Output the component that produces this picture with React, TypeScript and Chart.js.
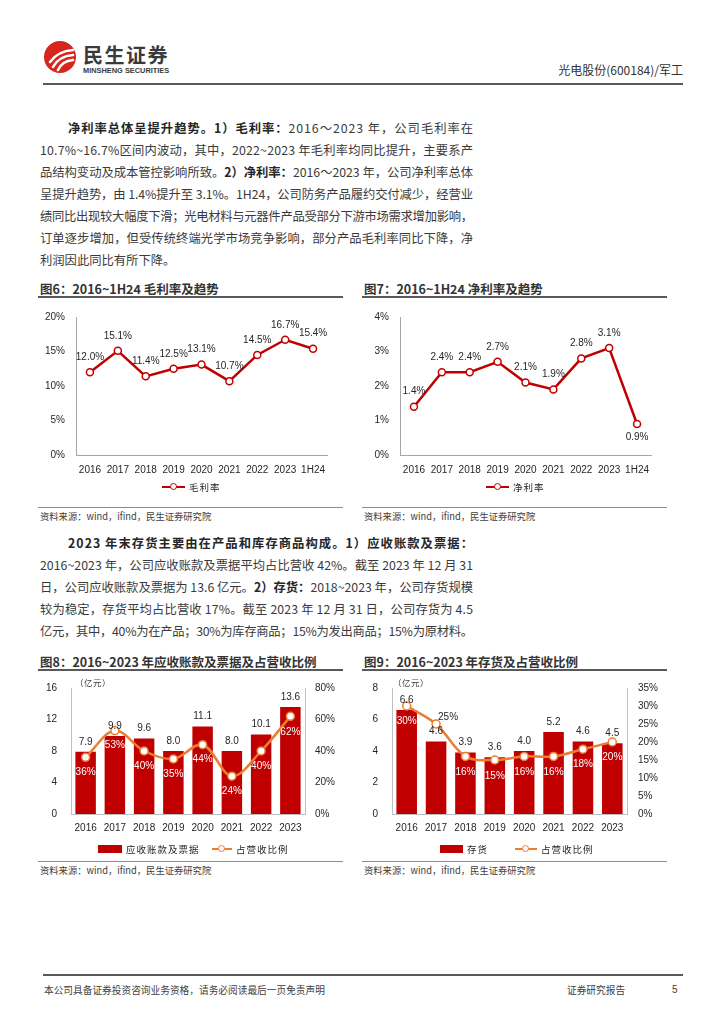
import React, { useEffect, useLayoutEffect, useRef } from "react";
import { Chart, registerables } from "chart.js";

Chart.register(...registerables);

// ---------------- data ----------------
const years9 = ["2016", "2017", "2018", "2019", "2020", "2021", "2022", "2023", "1H24"];
const grossMargin = [12.0, 15.1, 11.4, 12.5, 13.1, 10.7, 14.5, 16.7, 15.4];
const netMargin = [1.4, 2.4, 2.4, 2.7, 2.1, 1.9, 2.8, 3.1, 0.9];

const years8 = ["2016", "2017", "2018", "2019", "2020", "2021", "2022", "2023"];
const receivables = [7.9, 9.9, 9.6, 8.0, 11.1, 8.0, 10.1, 13.6];
const receivablesRatio = [36, 53, 40, 35, 44, 24, 40, 62];
const inventory = [6.6, 4.6, 3.9, 3.6, 4.0, 5.2, 4.6, 4.5];
const inventoryRatio = [30, 25, 16, 15, 16, 16, 18, 20];

const pctTicks6 = [0, 5, 10, 15, 20];
const pctTicks7 = [0, 1, 2, 3, 4];

// ---------------- styles ----------------
const RED = "#C00000";
const ORANGE = "#ED7D31";
const AXIS_GRAY = "#A6A6A6";
const BOX_GRAY = "#BFBFBF";
const TEXT = "#262626";
const LATIN = "'Liberation Sans', Arial, sans-serif";
const CJK = "'Noto Sans CJK SC', 'Noto Sans', sans-serif";
const TICK_FONT = { family: LATIN, size: 10 };

type LabelItem = {
  datasetIndex: number;
  format: (v: number) => string;
  color: string | string[];
  dx?: number | number[];
  dy: number | number[];
};

function labelPlugin(items: LabelItem[]) {
  return {
    id: "valueLabels",
    afterDatasetsDraw(chart: any) {
      const ctx = chart.ctx;
      ctx.save();
      ctx.font = `10px ${LATIN}`;
      ctx.textAlign = "center";
      ctx.textBaseline = "middle";
      for (const it of items) {
        const meta = chart.getDatasetMeta(it.datasetIndex);
        const values = chart.data.datasets[it.datasetIndex].data;
        meta.data.forEach((el: any, i: number) => {
          const pick = (p: any, d: any) => (Array.isArray(p) ? p[i] : p ?? d);
          ctx.fillStyle = pick(it.color, TEXT);
          ctx.fillText(it.format(values[i]), el.x + pick(it.dx, 0), el.y + pick(it.dy, 0));
        });
      }
      ctx.restore();
    },
  };
}

function lineConfig(labels: string[], values: number[], ticks: number[], dy: number[]) {
  return {
    type: "line",
    data: {
      labels,
      datasets: [
        {
          data: values,
          borderColor: RED,
          borderWidth: 2.5,
          pointRadius: 3.5,
          pointBorderWidth: 1.5,
          pointBackgroundColor: "#ffffff",
          pointBorderColor: RED,
          tension: 0,
        },
      ],
    },
    options: {
      animation: false,
      responsive: true,
      maintainAspectRatio: false,
      layout: { padding: { top: 13, right: 9, left: 0, bottom: 0 } },
      plugins: { legend: { display: false }, tooltip: { enabled: false } },
      scales: {
        x: {
          offset: true,
          grid: { display: false, drawTicks: false },
          border: { color: AXIS_GRAY, width: 1 },
          ticks: { padding: 9, font: TICK_FONT, color: TEXT, maxRotation: 0, autoSkip: false },
          afterFit: (s: any) => {
            s.height = 30;
          },
        },
        y: {
          min: ticks[0],
          max: ticks[ticks.length - 1],
          grid: { display: false, drawTicks: false },
          border: { color: AXIS_GRAY, width: 1 },
          ticks: {
            stepSize: ticks[1] - ticks[0],
            padding: 11,
            font: TICK_FONT,
            color: TEXT,
            callback: (v: any) => v + "%",
          },
          afterFit: (s: any) => {
            s.width = 40;
          },
        },
      },
    },
    plugins: [
      labelPlugin([
        { datasetIndex: 0, format: (v) => v.toFixed(1) + "%", color: TEXT, dy },
      ]),
    ],
  };
}

function barLineConfig(
  bars: number[],
  ratios: number[],
  yMax: number,
  yStep: number,
  y1Max: number,
  y1Step: number,
  leftW: number,
  rightW: number,
  rightPad: number,
  lineColors: string[],
  lineDx: number[],
  lineDy: number[]
) {
  return {
    type: "bar",
    data: {
      labels: years8,
      datasets: [
        {
          type: "bar",
          data: bars,
          backgroundColor: RED,
          borderWidth: 0,
          categoryPercentage: 1.0,
          barPercentage: 0.7,
          yAxisID: "y",
          order: 2,
        },
        {
          type: "line",
          data: ratios,
          borderColor: ORANGE,
          borderWidth: 2.5,
          pointRadius: 4,
          pointBorderWidth: 1.5,
          pointBackgroundColor: "#ffffff",
          pointBorderColor: ORANGE,
          tension: 0.35,
          yAxisID: "y1",
          order: 1,
        },
      ],
    },
    options: {
      animation: false,
      responsive: true,
      maintainAspectRatio: false,
      layout: { padding: { top: 11, right: 0, left: 0, bottom: 0 } },
      plugins: { legend: { display: false }, tooltip: { enabled: false } },
      scales: {
        x: {
          offset: true,
          grid: { display: false, drawTicks: false },
          border: { color: BOX_GRAY, width: 1 },
          ticks: { padding: 8, font: TICK_FONT, color: TEXT, maxRotation: 0, autoSkip: false },
          afterFit: (s: any) => {
            s.height = 26;
          },
        },
        y: {
          position: "left",
          min: 0,
          max: yMax,
          grid: { display: false, drawTicks: false },
          border: { color: BOX_GRAY, width: 1 },
          ticks: { stepSize: yStep, padding: 14, font: TICK_FONT, color: TEXT },
          afterFit: (s: any) => {
            s.width = leftW;
          },
        },
        y1: {
          position: "right",
          min: 0,
          max: y1Max,
          grid: { display: false, drawTicks: false },
          border: { color: BOX_GRAY, width: 1 },
          ticks: {
            stepSize: y1Step,
            padding: rightPad,
            font: TICK_FONT,
            color: TEXT,
            callback: (v: any) => v + "%",
          },
          afterFit: (s: any) => {
            s.width = rightW;
          },
        },
      },
    },
    plugins: [
      labelPlugin([
        { datasetIndex: 0, format: (v) => v.toFixed(1), color: TEXT, dy: -10 },
        { datasetIndex: 1, format: (v) => Math.round(v) + "%", color: lineColors, dx: lineDx, dy: lineDy },
      ]),
    ],
  };
}

// ---------------- components ----------------
function ChartBox({ config, left, top, width, height }: any) {
  const ref = useRef<HTMLCanvasElement | null>(null);
  useEffect(() => {
    const c = new Chart(ref.current as HTMLCanvasElement, config);
    return () => c.destroy();
  }, []);
  return (
    <div style={{ position: "absolute", left, top, width, height }}>
      <canvas ref={ref} />
    </div>
  );
}

function T({ x, y, size, children, bold, color, font, align, right, spacing }: any) {
  const style: any = {
    position: "absolute",
    top: y - 10,
    height: 20,
    lineHeight: "20px",
    fontSize: size,
    fontFamily: font || CJK,
    fontWeight: bold ? 700 : 400,
    color: color || "#333",
    whiteSpace: "nowrap",
    letterSpacing: spacing || 0,
  };
  if (right !== undefined) style.right = right;
  else style.left = x;
  if (align) style.textAlign = align;
  return <div style={style}>{children}</div>;
}

function HLine({ x, y, w, h, color }: any) {
  return <div style={{ position: "absolute", left: x, top: y, width: w, height: h, background: color }} />;
}

type Seg = [string, boolean];
function ParaLine({ x, y, w, segs, last }: { x: number; y: number; w: number; segs: Seg[]; last?: boolean }) {
  const ref = useRef<HTMLDivElement | null>(null);
  const innerRef = useRef<HTMLSpanElement | null>(null);
  useLayoutEffect(() => {
    const el = ref.current;
    const inner = innerRef.current;
    if (!el || !inner || last) return;
    el.style.letterSpacing = "0px";
    const natural = inner.getBoundingClientRect().width;
    const n = Array.from(segs.map((s) => s[0]).join("")).length;
    const ls = (w - natural) / Math.max(1, n - 1);
    el.style.letterSpacing = ls + "px";
  }, []);
  return (
    <div
      ref={ref}
      style={{
        position: "absolute",
        left: x,
        top: y - 11,
        width: w,
        height: 22,
        lineHeight: "22px",
        fontSize: 12.3,
        fontFamily: CJK,
        color: "#3a3a3a",
        whiteSpace: "nowrap",
      }}
    >
      <span ref={innerRef}>
        {segs.map((s, i) => (
          <span key={i} style={{ fontWeight: s[1] ? 700 : 400, color: s[1] ? "#262626" : undefined }}>
            {s[0]}
          </span>
        ))}
      </span>
    </div>
  );
}

function LegendLine({ x1, x2, y, color, label }: any) {
  const cx = (x1 + x2) / 2;
  return (
    <>
      <div style={{ position: "absolute", left: x1, top: y - 1.25, width: x2 - x1, height: 2.5, background: color }} />
      <div
        style={{
          position: "absolute",
          left: cx - 4,
          top: y - 4,
          width: 5,
          height: 5,
          borderRadius: "50%",
          border: `1.5px solid ${color}`,
          background: "#fff",
        }}
      />
      <T x={x2 + 4} y={y} size={9.5} color={TEXT} spacing={1}>
        {label}
      </T>
    </>
  );
}

function LegendRect({ x1, x2, y, color, label }: any) {
  return (
    <>
      <div style={{ position: "absolute", left: x1, top: y - 4, width: x2 - x1, height: 8, background: color }} />
      <T x={x2 + 4} y={y} size={9.5} color={TEXT} spacing={1}>
        {label}
      </T>
    </>
  );
}

const para1: { x: number; y: number; w: number; segs: Seg[]; last?: boolean }[] = [
  { x: 68, y: 128, w: 405, segs: [["净利率总体呈提升趋势。1）毛利率：", true], ["2016～2023 年，公司毛利率在", false]] },
  { x: 40, y: 150, w: 433, segs: [["10.7%~16.7%区间内波动，其中，2022~2023 年毛利率均同比提升，主要系产", false]] },
  { x: 40, y: 172, w: 433, segs: [["品结构变动及成本管控影响所致。", false], ["2）净利率：", true], ["2016～2023 年，公司净利率总体", false]] },
  { x: 40, y: 194, w: 433, segs: [["呈提升趋势，由 1.4%提升至 3.1%。1H24，公司防务产品履约交付减少，经营业", false]] },
  { x: 40, y: 216, w: 433, segs: [["绩同比出现较大幅度下滑；光电材料与元器件产品受部分下游市场需求增加影响，", false]] },
  { x: 40, y: 238, w: 433, segs: [["订单逐步增加，但受传统终端光学市场竞争影响，部分产品毛利率同比下降，净", false]] },
  { x: 40, y: 260, w: 433, segs: [["利润因此同比有所下降。", false]], last: true },
];

const para2: { x: number; y: number; w: number; segs: Seg[]; last?: boolean }[] = [
  { x: 68, y: 543, w: 405, segs: [["2023 年末存货主要由在产品和库存商品构成。1）应收账款及票据：", true]] },
  { x: 40, y: 565, w: 433, segs: [["2016~2023 年，公司应收账款及票据平均占比营收 42%。截至 2023 年 12 月 31", false]] },
  { x: 40, y: 587, w: 433, segs: [["日，公司应收账款及票据为 13.6 亿元。", false], ["2）存货：", true], ["2018~2023 年，公司存货规模", false]] },
  { x: 40, y: 609, w: 433, segs: [["较为稳定，存货平均占比营收 17%。截至 2023 年 12 月 31 日，公司存货为 4.5", false]] },
  { x: 40, y: 631, w: 433, segs: [["亿元，其中，40%为在产品；30%为库存商品；15%为发出商品；15%为原材料。", false]] },
];

const cfg6 = lineConfig(years9, grossMargin, pctTicks6, [-15, -15, -15, -15, -15, -15, -15, -15, -15]);
const cfg7 = lineConfig(years9, netMargin, pctTicks7, [-15, -15, -15, -15, -15, -15, -15, -15, 13]);
const cfg8 = barLineConfig(
  receivables,
  receivablesRatio,
  16,
  4,
  80,
  20,
  35,
  37,
  10,
  ["#fff", "#fff", "#fff", "#fff", "#fff", "#fff", "#fff", "#fff"],
  [0, 0, 0, 0, 0, 0, 0, 0],
  [15, 15, 15, 15, 15, 15, 15, 16]
);
const cfg9 = barLineConfig(
  inventory,
  inventoryRatio,
  8,
  2,
  35,
  5,
  36,
  35,
  11,
  ["#fff", TEXT, "#fff", "#fff", "#fff", "#fff", "#fff", "#fff"],
  [0, 12, 0, 0, 0, 0, 0, 0],
  [15, -7, 16, 16, 16, 16, 15, 15]
);

function ChartFrame({ x, w, titleY, title, srcY }: any) {
  return (
    <>
      <T x={x + 2} y={titleY} size={12.5} bold color="#333">
        {title}
      </T>
      <HLine x={x} y={titleY + 7} w={w} h={1.5} color="#595959" />
      <HLine x={x} y={srcY} w={w} h={1} color="#8c8c8c" />
      <T x={x + 2} y={srcY + 9} size={9.3} color="#404040">
        资料来源：wind，ifind，民生证券研究院
      </T>
    </>
  );
}

export default function App() {
  return (
    <div
      style={{
        position: "absolute",
        left: 0,
        top: 0,
        width: 724,
        height: 1024,
        background: "#fff",
        overflow: "hidden",
      }}
    >
      {/* header */}
      <svg width="32" height="32" viewBox="0 0 32 32" style={{ position: "absolute", left: 44, top: 41 }}>
        <circle cx="16" cy="16" r="16" fill="#D7261E" />
        <path d="M6 21 Q 14 10 29 9" stroke="#fff" strokeWidth="2.6" fill="none" strokeLinecap="round" />
        <path d="M9 26 Q 15 15 29 14" stroke="#fff" strokeWidth="2.6" fill="none" strokeLinecap="round" />
        <path d="M14 29 Q 18 20 29 19" stroke="#fff" strokeWidth="2.6" fill="none" strokeLinecap="round" />
      </svg>
      <T x={83} y={55} size={20} bold color="#3a3a3a" spacing={1.5}>
        民生证券
      </T>
      <T x={83} y={70.5} size={7.4} bold color="#3a3a3a" font={LATIN}>
        MINSHENG SECURITIES
      </T>
      <T right={41} y={70} size={12} color="#333">
        光电股份(600184)/军工
      </T>
      <HLine x={43} y={83} w={640} h={1.5} color="#595959" />

      {para1.map((l, i) => (
        <ParaLine key={"p1" + i} {...l} />
      ))}

      {/* charts 6 & 7 */}
      <ChartFrame x={38} w={305} titleY={289} title="图6：2016~1H24 毛利率及趋势" srcY={507} />
      <ChartFrame x={362} w={305} titleY={289} title="图7：2016~1H24 净利率及趋势" srcY={507} />
      <ChartBox config={cfg6} left={36} top={300} width={300} height={185} />
      <ChartBox config={cfg7} left={360} top={300} width={300} height={185} />
      <LegendLine x1={162} x2={185} y={487} color={RED} label="毛利率" />
      <LegendLine x1={486} x2={509} y={487} color={RED} label="净利率" />

      {para2.map((l, i) => (
        <ParaLine key={"p2" + i} {...l} />
      ))}

      {/* charts 8 & 9 */}
      <ChartFrame x={38} w={305} titleY={662} title="图8：2016~2023 年应收账款及票据及占营收比例" srcY={861} />
      <ChartFrame x={362} w={305} titleY={662} title="图9：2016~2023 年存货及占营收比例" srcY={861} />
      <ChartBox config={cfg8} left={36} top={668} width={306} height={172} />
      <ChartBox config={cfg9} left={356} top={668} width={306} height={172} />
      <T x={75} y={682} size={8.5} color="#404040" spacing={0.5}>
        （亿元）
      </T>
      <T x={393} y={682} size={8.5} color="#404040" spacing={0.5}>
        （亿元）
      </T>
      <LegendRect x1={98} x2={122} y={849} color={RED} label="应收账款及票据" />
      <LegendLine x1={212} x2={232} y={849} color={ORANGE} label="占营收比例" />
      <LegendRect x1={440} x2={463} y={849} color={RED} label="存货" />
      <LegendLine x1={515} x2={537} y={849} color={ORANGE} label="占营收比例" />

      {/* footer */}
      <HLine x={43} y={974} w={640} h={1.5} color="#595959" />
      <T x={44} y={990} size={9.7} color="#404040">
        本公司具备证券投资咨询业务资格，请务必阅读最后一页免责声明
      </T>
      <T x={567} y={990} size={9.7} color="#404040">
        证券研究报告
      </T>
      <T x={672} y={990} size={10} color="#404040" font={LATIN}>
        5
      </T>
    </div>
  );
}
